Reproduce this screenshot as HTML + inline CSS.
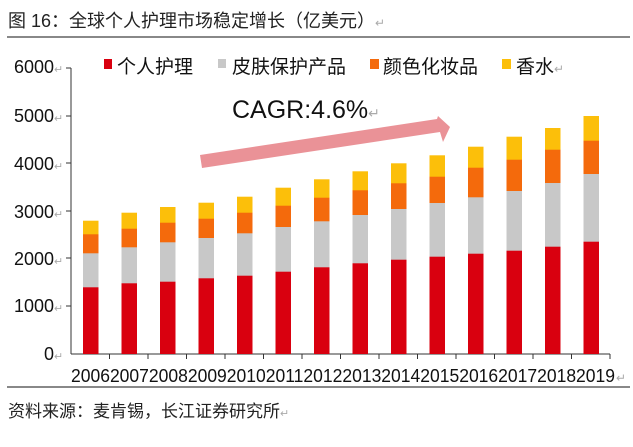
<!DOCTYPE html><html><head><meta charset="utf-8"><style>
body{margin:0;background:#fff;}
svg text{font-family:"Liberation Sans","Noto Sans CJK SC",sans-serif;}
</style></head><body>
<svg width="633" height="442" xmlns="http://www.w3.org/2000/svg">
<text x="8" y="27" font-size="18" fill="#222">图 16：全球个人护理市场稳定增长（亿美元）<tspan fill="#aaa" font-size="12">↵</tspan></text>
<line x1="7" y1="37" x2="630" y2="37" stroke="#111" stroke-width="1"/>
<rect x="104" y="59" width="8" height="10" fill="#d9000f"/><text x="117" y="73" font-size="19" fill="#111">个人护理</text>
<rect x="218" y="59" width="8" height="9" fill="#c8c8c8"/><text x="232" y="73" font-size="19" fill="#111">皮肤保护产品</text>
<rect x="370" y="59" width="9" height="10" fill="#f46a0c"/><text x="383" y="73" font-size="19" fill="#111">颜色化妆品</text>
<rect x="502" y="59" width="9" height="10" fill="#fcbf0a"/><text x="516" y="73" font-size="19" fill="#111">香水<tspan fill="#aaa" font-size="12">↵</tspan></text>
<g font-size="18" fill="#111" text-anchor="end">
<text x="54" y="73">6000</text><text x="54" y="122">5000</text><text x="54" y="170">4000</text>
<text x="54" y="218">3000</text><text x="54" y="265">2000</text><text x="54" y="312">1000</text><text x="54" y="360">0</text>
</g>
<g font-size="11" fill="#aaa"><text x="54" y="73">↵</text><text x="54" y="122">↵</text><text x="54" y="170">↵</text><text x="54" y="218">↵</text><text x="54" y="265">↵</text><text x="54" y="312">↵</text><text x="54" y="360">↵</text></g>
<line x1="71" y1="68" x2="71" y2="354" stroke="#333"/>
<g stroke="#333">
<line x1="66" y1="68" x2="71" y2="68"/><line x1="66" y1="116" x2="71" y2="116"/><line x1="66" y1="163" x2="71" y2="163"/>
<line x1="66" y1="211" x2="71" y2="211"/><line x1="66" y1="258" x2="71" y2="258"/><line x1="66" y1="306" x2="71" y2="306"/>
<line x1="71" y1="354" x2="610" y2="354"/>
<line x1="109.5" y1="354" x2="109.5" y2="359"/><line x1="148" y1="354" x2="148" y2="359"/><line x1="186.5" y1="354" x2="186.5" y2="359"/>
<line x1="225" y1="354" x2="225" y2="359"/><line x1="263.5" y1="354" x2="263.5" y2="359"/><line x1="302" y1="354" x2="302" y2="359"/>
<line x1="340.5" y1="354" x2="340.5" y2="359"/><line x1="379" y1="354" x2="379" y2="359"/><line x1="417.5" y1="354" x2="417.5" y2="359"/>
<line x1="456" y1="354" x2="456" y2="359"/><line x1="494.5" y1="354" x2="494.5" y2="359"/><line x1="533" y1="354" x2="533" y2="359"/>
<line x1="571.5" y1="354" x2="571.5" y2="359"/><line x1="610" y1="354" x2="610" y2="359"/>
</g>
<g fill="#fcbf0a">
<rect x="83" y="220.7" width="15.5" height="133.3"/><rect x="121.5" y="212.7" width="15.5" height="141.3"/><rect x="160" y="207" width="15.5" height="147"/><rect x="198.5" y="202.7" width="15.5" height="151.3"/><rect x="237" y="196.7" width="15.5" height="157.3"/><rect x="275.5" y="187.7" width="15.5" height="166.3"/><rect x="314" y="179.3" width="15.5" height="174.7"/><rect x="352.5" y="171.3" width="15.5" height="182.7"/><rect x="391" y="163.3" width="15.5" height="190.7"/><rect x="429.5" y="155.3" width="15.5" height="198.7"/><rect x="468" y="146.7" width="15.5" height="207.3"/><rect x="506.5" y="136.7" width="15.5" height="217.3"/><rect x="545" y="128" width="15.5" height="226"/><rect x="583.5" y="116" width="15.5" height="238"/>
</g>
<g fill="#f46a0c">
<rect x="83" y="234.3" width="15.5" height="119.7"/><rect x="121.5" y="228.7" width="15.5" height="125.3"/><rect x="160" y="222.7" width="15.5" height="131.3"/><rect x="198.5" y="218.7" width="15.5" height="135.3"/><rect x="237" y="212.7" width="15.5" height="141.3"/><rect x="275.5" y="205.7" width="15.5" height="148.3"/><rect x="314" y="197.7" width="15.5" height="156.3"/><rect x="352.5" y="190.3" width="15.5" height="163.7"/><rect x="391" y="183.3" width="15.5" height="170.7"/><rect x="429.5" y="176.7" width="15.5" height="177.3"/><rect x="468" y="167.7" width="15.5" height="186.3"/><rect x="506.5" y="159.7" width="15.5" height="194.3"/><rect x="545" y="149.7" width="15.5" height="204.3"/><rect x="583.5" y="140.7" width="15.5" height="213.3"/>
</g>
<g fill="#c8c8c8">
<rect x="83" y="253.3" width="15.5" height="100.7"/><rect x="121.5" y="247.3" width="15.5" height="106.7"/><rect x="160" y="242.3" width="15.5" height="111.7"/><rect x="198.5" y="238" width="15.5" height="116"/><rect x="237" y="233.3" width="15.5" height="120.7"/><rect x="275.5" y="227" width="15.5" height="127"/><rect x="314" y="221.3" width="15.5" height="132.7"/><rect x="352.5" y="215" width="15.5" height="139"/><rect x="391" y="209" width="15.5" height="145"/><rect x="429.5" y="203" width="15.5" height="151"/><rect x="468" y="197.3" width="15.5" height="156.7"/><rect x="506.5" y="191" width="15.5" height="163"/><rect x="545" y="183" width="15.5" height="171"/><rect x="583.5" y="174" width="15.5" height="180"/>
</g>
<g fill="#d9000f">
<rect x="83" y="287.3" width="15.5" height="66.7"/><rect x="121.5" y="283.3" width="15.5" height="70.7"/><rect x="160" y="281.7" width="15.5" height="72.3"/><rect x="198.5" y="278.3" width="15.5" height="75.7"/><rect x="237" y="275.7" width="15.5" height="78.3"/><rect x="275.5" y="271.7" width="15.5" height="82.3"/><rect x="314" y="267.3" width="15.5" height="86.7"/><rect x="352.5" y="263.3" width="15.5" height="90.7"/><rect x="391" y="259.7" width="15.5" height="94.3"/><rect x="429.5" y="256.7" width="15.5" height="97.3"/><rect x="468" y="253.7" width="15.5" height="100.3"/><rect x="506.5" y="250.7" width="15.5" height="103.3"/><rect x="545" y="246.7" width="15.5" height="107.3"/><rect x="583.5" y="241.7" width="15.5" height="112.3"/>
</g>
<polygon points="200,155 437,119 438,116 450,127 443,142 440,132 202,168" fill="#e8868c" opacity="0.9"/>
<text x="232" y="118" font-size="25" fill="#111">CAGR:4.6%<tspan fill="#aaa" font-size="14">↵</tspan></text>
<text x="71" y="382" font-size="18" fill="#111" textLength="544" lengthAdjust="spacingAndGlyphs">20062007200820092010201120122013201420152016201720182019</text>
<text x="616" y="382" font-size="12" fill="#aaa">↵</text>
<line x1="7" y1="387" x2="630" y2="387" stroke="#111"/>
<text x="8" y="417" font-size="17" fill="#222">资料来源：麦肯锡，长江证券研究所<tspan fill="#aaa" font-size="11">↵</tspan></text>
</svg>
</body></html>
